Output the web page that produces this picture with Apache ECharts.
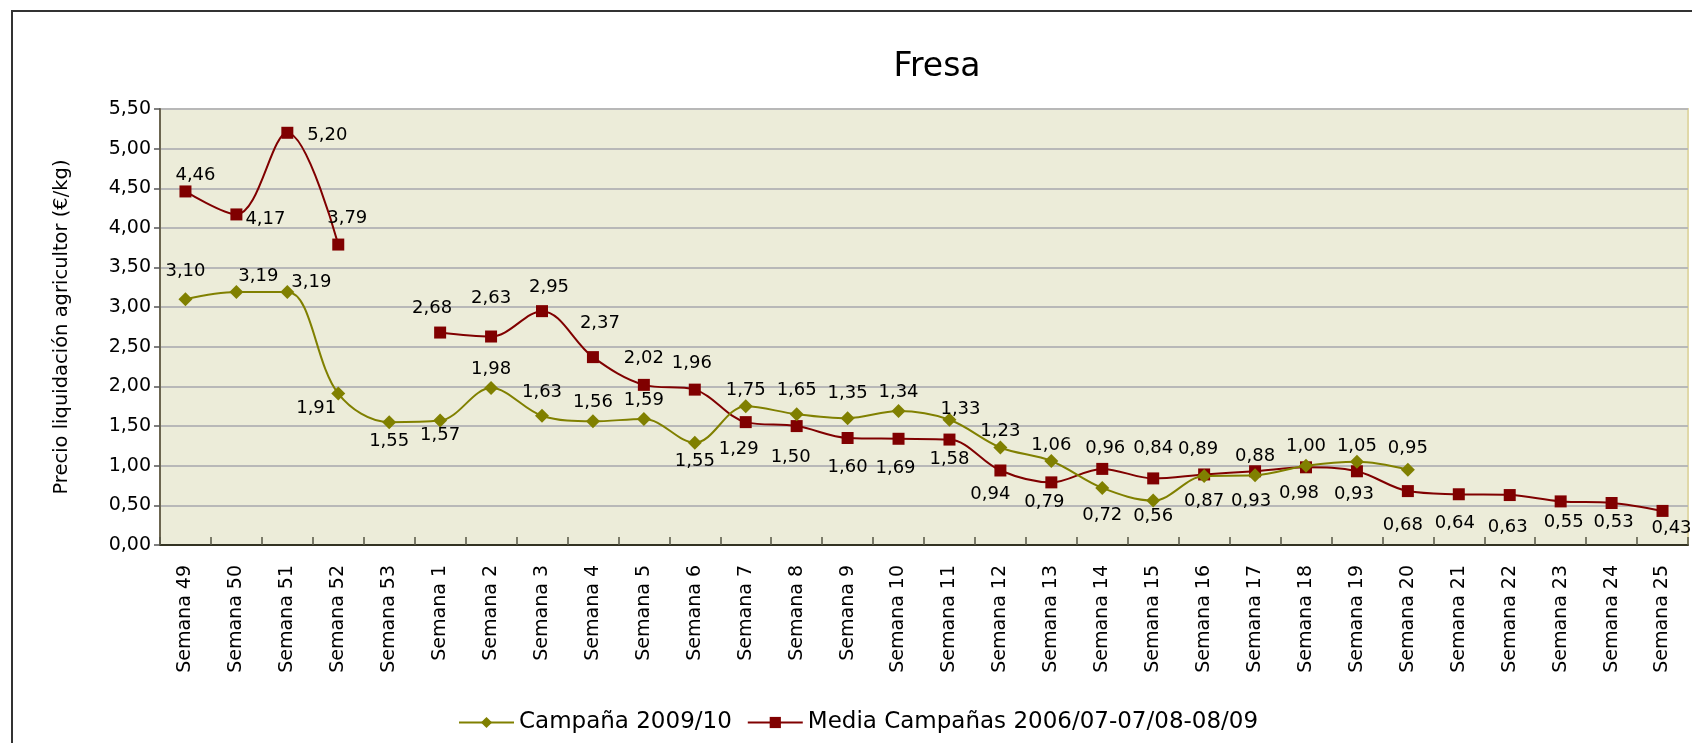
<!DOCTYPE html>
<html><head><meta charset="utf-8">
<script src="https://cdn.jsdelivr.net/npm/echarts@6/dist/echarts.min.js"></script>
<style>html,body{margin:0;padding:0;background:#fff}#c{width:1692px;height:743px}</style>
</head><body><div id="c"></div>
<script>
const categories = ['Semana 49','Semana 50','Semana 51','Semana 52','Semana 53','Semana 1','Semana 2','Semana 3','Semana 4','Semana 5','Semana 6','Semana 7','Semana 8','Semana 9','Semana 10','Semana 11','Semana 12','Semana 13','Semana 14','Semana 15','Semana 16','Semana 17','Semana 18','Semana 19','Semana 20','Semana 21','Semana 22','Semana 23','Semana 24','Semana 25'];
const campana = [3.10,3.19,3.19,1.91,1.55,1.57,1.98,1.63,1.56,1.59,1.29,1.75,1.65,1.60,1.69,1.58,1.23,1.06,0.72,0.56,0.87,0.88,1.00,1.05,0.95,null,null,null,null,null];
const media = [4.46,4.17,5.20,3.79,null,2.68,2.63,2.95,2.37,2.02,1.96,1.55,1.50,1.35,1.34,1.33,0.94,0.79,0.96,0.84,0.89,0.93,0.98,0.93,0.68,0.64,0.63,0.55,0.53,0.43];
// label texts as printed in the original chart
const campanaLabels = ['3,10','3,19','3,19','1,91','1,55','1,57','1,98','1,63','1,56','1,59','1,55','1,75','1,65','1,35','1,34','1,33','1,23','1,06','0,72','0,56','0,87','0,88','1,00','1,05','0,95',null,null,null,null,null];
const mediaLabels = ['4,46','4,17','5,20','3,79',null,'2,68','2,63','2,95','2,37','2,02','1,96','1,29','1,50','1,60','1,69','1,58','0,94','0,79','0,96','0,84','0,89','0,93','0,98','0,93','0,68','0,64','0,63','0,55','0,53','0,43'];

// label placement (style only)
const campanaPos = ['top','top','right','left','bottom','bottom','top','top','top','top','bottom','top','top','top','top','top','top','top','bottom','bottom','bottom','top','top','top','top'];
const mediaPos = ['top','right','right','top',null,'top','top','top','top','top','top','bottom','bottom','bottom','bottom','bottom','bottom','bottom','top','top','top','bottom','bottom','bottom','bottom','bottom','bottom','bottom','bottom','bottom'];
const campanaOff = {0:[0,-9],1:[22,3],2:[-6,-10],3:[8,15],5:[0,-4],7:[0,-4],11:[0,3],12:[0,-5],13:[0,-6],15:[11,9],16:[0,3],17:[0,3],18:[0,8],19:[0,-3],20:[0,6],23:[0,4],24:[0,-2]};
const mediaOff = {0:[10,8],1:[-6,5],2:[5,3],3:[9,-2],5:[-8,0],6:[0,-14],7:[7,0],8:[7,-10],9:[0,-3],10:[-3,-2],11:[-7,3],12:[-6,7],13:[0,5],14:[-3,6],15:[0,-4],16:[-10,0],17:[-7,-4],18:[3,3],19:[0,-6],20:[-6,-1],21:[-4,6],22:[-7,2],23:[-3,-1],24:[-5,10],25:[-4,5],26:[-2,8],27:[3,-3],28:[2,-5],29:[9,-7]};

const FONT = 'DejaVu Sans';
function build(vals, labels, pos, off, dist) {
  return vals.map((v, i) => {
    if (v == null) return null;
    const lab = {show: true, position: pos[i], distance: dist, formatter: labels[i] || ''};
    if (off[i]) lab.offset = off[i];
    return {value: v, label: lab};
  });
}

const chart = echarts.init(document.getElementById('c'));
chart.setOption({
  animation: false,
  backgroundColor: '#ffffff',
  title: {text: 'Fresa', left: 932, top: 46, textAlign: 'center',
    textStyle: {fontFamily: FONT, fontSize: 33, fontWeight: 'normal', color: '#000'}},
  graphic: [{type: 'rect', shape: {x: 12, y: 11, width: 1760, height: 800},
    style: {fill: 'none', stroke: '#333333', lineWidth: 2}, silent: true, z: 100}],
  grid: {left: 160, right: 4, top: 109, bottom: 198, show: true,
    backgroundColor: '#ECECD9', borderColor: '#E0D8A8', borderWidth: 2},
  legend: {left: 453, top: 706, itemWidth: 55, itemHeight: 14, itemGap: 15,
    textStyle: {fontFamily: FONT, fontSize: 23, color: '#000'},
    data: ['Campaña 2009/10', 'Media Campañas 2006/07-07/08-08/09']},
  xAxis: {type: 'category', data: categories, boundaryGap: true,
    axisLine: {lineStyle: {color: '#333322', width: 2}},
    axisTick: {show: true, inside: true, length: 8, interval: 0, lineStyle: {color: '#555544', width: 1.5}},
    axisLabel: {rotate: 90, interval: 0, margin: 20, fontFamily: FONT, fontSize: 19, color: '#000'}},
  yAxis: {type: 'value', min: 0, max: 5.5, interval: 0.5,
    name: 'Precio liquidación agricultor (€/kg)', nameLocation: 'middle', nameRotate: 90, nameGap: 88,
    nameTextStyle: {fontFamily: FONT, fontSize: 19.5, color: '#000'},
    axisLine: {show: true, lineStyle: {color: '#6b6550', width: 2}},
    axisTick: {show: true, length: 6, lineStyle: {color: '#555', width: 1.5}},
    splitLine: {lineStyle: {color: '#B8B8B8', width: 2}},
    axisLabel: {margin: 9, fontFamily: FONT, fontSize: 19, color: '#000',
      formatter: v => v.toFixed(2).replace('.', ',')}},
  series: [
    {name: 'Campaña 2009/10', type: 'line', smooth: 0.35, connectNulls: false,
      data: build(campana, campanaLabels, campanaPos, campanaOff, 3),
      symbol: 'diamond', symbolSize: [14, 14],
      itemStyle: {color: '#808000'}, lineStyle: {color: '#808000', width: 2},
      label: {fontFamily: FONT, fontSize: 18, color: '#000'}, z: 3},
    {name: 'Media Campañas 2006/07-07/08-08/09', type: 'line', smooth: 0.35, connectNulls: false,
      data: build(media, mediaLabels, mediaPos, mediaOff, 9),
      symbol: 'rect', symbolSize: 12,
      itemStyle: {color: '#800000'}, lineStyle: {color: '#800000', width: 2},
      label: {fontFamily: FONT, fontSize: 18, color: '#000'}, z: 2}
  ]
});
</script></body></html>
